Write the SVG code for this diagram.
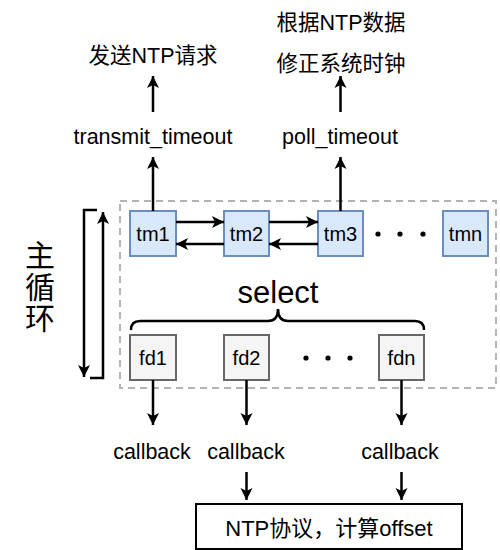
<svg xmlns="http://www.w3.org/2000/svg" width="500" height="550" viewBox="0 0 500 550">
  <defs>
    <marker id="ah" markerUnits="userSpaceOnUse" markerWidth="14" markerHeight="14" viewBox="0 0 14 14" refX="13" refY="7" orient="auto">
      <path d="M1,1 L13,7 L1,13 L4,7 Z" fill="#000"/>
    </marker>
    <style>
      .t { font-family: "Liberation Sans", "Noto Sans CJK SC", sans-serif; fill: #000; }
      .lbl { font-size: 21.5px; text-anchor: middle; }
      .box { font-size: 20px; text-anchor: middle; }
      .tm { fill: #dae8fc; stroke: #6c8ebf; stroke-width: 2; }
      .fd { fill: #f5f5f5; stroke: #666666; stroke-width: 2; }
      .ln { stroke: #000; stroke-width: 2.5; fill: none; }
      .arr { stroke: #000; stroke-width: 2.5; fill: none; marker-end: url(#ah); }
    </style>
  </defs>
  <rect width="500" height="550" fill="#fff"/>

  <!-- container -->
  <g id="container">
    <rect x="120" y="201" width="376" height="187" fill="none" stroke="#b3b3b3" stroke-width="2" stroke-dasharray="7,5"/>
  </g>

  <!-- top texts -->
  <g id="top-texts">
    <text class="t lbl" x="153" y="63">发送NTP请求</text>
    <text class="t lbl" x="341" y="30">根据NTP数据</text>
    <text class="t lbl" x="341" y="71">修正系统时钟</text>
    <text class="t lbl" x="153" y="144">transmit_timeout</text>
    <text class="t lbl" x="340" y="144">poll_timeout</text>
  </g>

  <!-- main loop label -->
  <g id="main-loop">
    <text class="t" x="40" y="266" font-size="30" text-anchor="middle">主</text>
    <text class="t" x="40" y="298" font-size="30" text-anchor="middle">循</text>
    <text class="t" x="40" y="329" font-size="30" text-anchor="middle">环</text>
  </g>

  <!-- timer nodes -->
  <g id="tm1"><rect class="tm" x="130" y="211" width="46" height="45"/><text class="t box" x="153" y="241">tm1</text></g>
  <g id="tm2"><rect class="tm" x="224" y="211" width="45" height="45"/><text class="t box" x="246.5" y="241">tm2</text></g>
  <g id="tm3"><rect class="tm" x="318" y="211" width="45" height="45"/><text class="t box" x="340.5" y="241">tm3</text></g>
  <g id="tmn"><rect class="tm" x="443" y="211" width="45" height="45"/><text class="t box" x="465.5" y="241">tmn</text></g>
  <g id="tm-dots" fill="#000">
    <circle cx="378" cy="234" r="2.6"/><circle cx="400" cy="234" r="2.6"/><circle cx="423" cy="234" r="2.6"/>
  </g>

  <!-- select -->
  <g id="select">
    <text class="t" x="278" y="303" font-size="31" text-anchor="middle">select</text>
    <path class="ln" d="M131,330 Q131,321 140,321 L268,321 Q278,321 278,309 Q278,321 288,321 L415,321 Q424,321 424,330"/>
  </g>

  <!-- fd nodes -->
  <g id="fd1"><rect class="fd" x="130" y="335" width="46" height="45"/><text class="t box" x="153" y="365">fd1</text></g>
  <g id="fd2"><rect class="fd" x="224" y="335" width="45" height="45"/><text class="t box" x="246.5" y="365">fd2</text></g>
  <g id="fdn"><rect class="fd" x="379" y="335" width="45" height="45"/><text class="t box" x="401.5" y="365">fdn</text></g>
  <g id="fd-dots" fill="#000">
    <circle cx="306" cy="358" r="2.6"/><circle cx="328" cy="358" r="2.6"/><circle cx="350" cy="358" r="2.6"/>
  </g>

  <!-- callbacks -->
  <g id="callbacks">
    <text class="t lbl" x="152" y="459">callback</text>
    <text class="t lbl" x="246" y="459">callback</text>
    <text class="t lbl" x="400" y="459">callback</text>
  </g>

  <!-- bottom box -->
  <g id="ntp-box">
    <rect x="196" y="504" width="266" height="45" fill="#fff" stroke="#000" stroke-width="2"/>
    <text class="t" x="329" y="536" font-size="22" text-anchor="middle">NTP协议，计算offset</text>
  </g>

  <!-- connectors -->
  <g id="connectors">
    <line class="arr" x1="153" y1="211" x2="153" y2="157"/>
    <line class="arr" x1="340.5" y1="211" x2="340.5" y2="157"/>
    <line class="arr" x1="153" y1="112" x2="153" y2="76"/>
    <line class="arr" x1="340.5" y1="112" x2="340.5" y2="76"/>
    <line class="arr" x1="176" y1="222" x2="224" y2="222"/>
    <line class="arr" x1="224" y1="244" x2="176" y2="244"/>
    <line class="arr" x1="269" y1="222" x2="318" y2="222"/>
    <line class="arr" x1="318" y1="244" x2="269" y2="244"/>
    <line class="arr" x1="153" y1="380" x2="153" y2="425"/>
    <line class="arr" x1="246.5" y1="380" x2="246.5" y2="425"/>
    <line class="arr" x1="401.5" y1="380" x2="401.5" y2="425"/>
    <line class="arr" x1="246.5" y1="472" x2="246.5" y2="500"/>
    <line class="arr" x1="401.5" y1="472" x2="401.5" y2="500"/>
    <polyline class="arr" points="97,210 84,210 84,377"/>
    <polyline class="arr" points="90,378 103,378 103,212"/>
  </g>
</svg>
